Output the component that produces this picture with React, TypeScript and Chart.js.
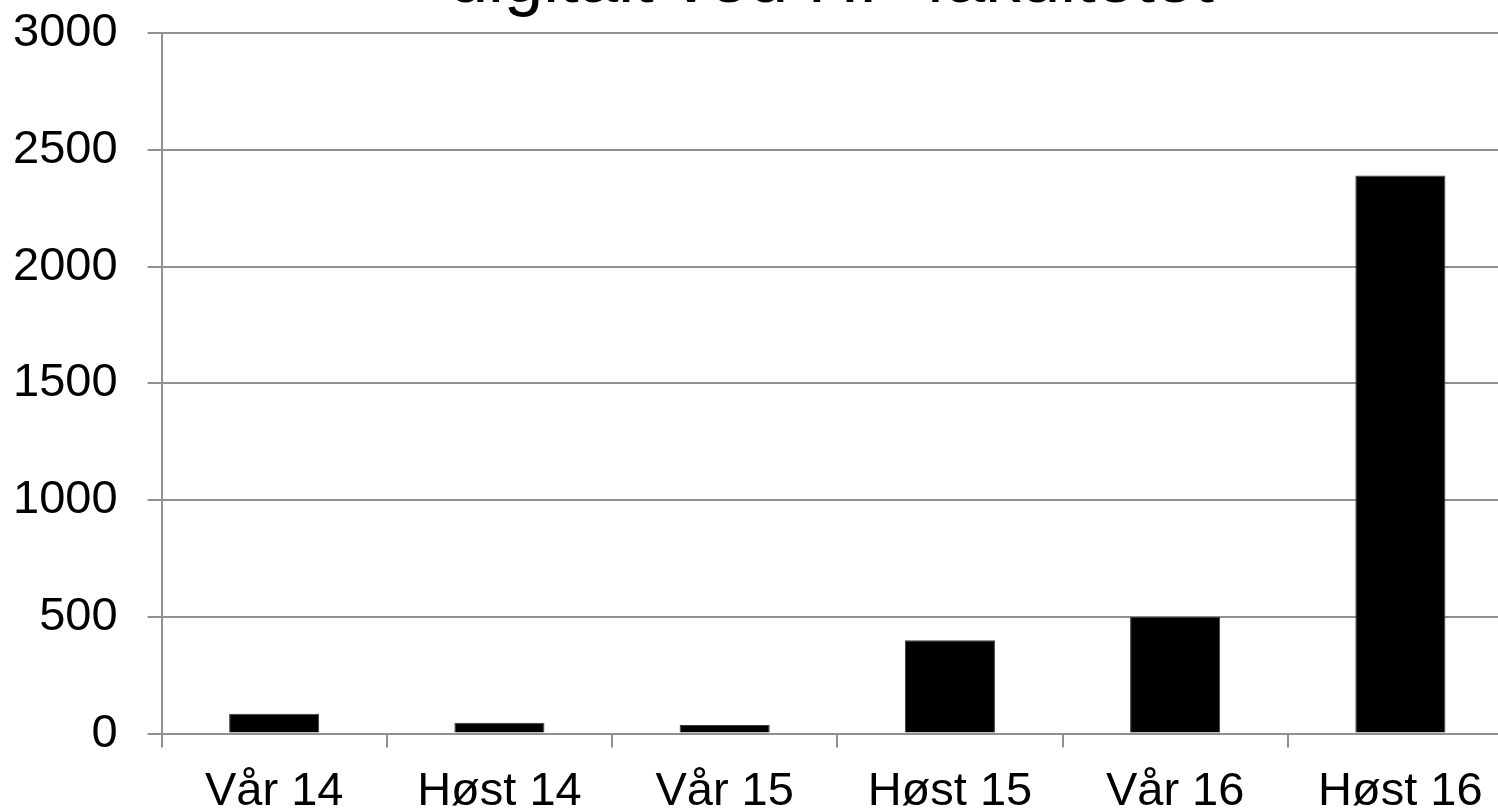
import React, { useEffect, useRef } from "react";
import { Chart, registerables } from "chart.js";

Chart.register(...registerables);

const TITLE = "digitalt ved HF-fakultetet";
const CATEGORIES = ["Vår 14", "Høst 14", "Vår 15", "Høst 15", "Vår 16", "Høst 16"];
const VALUES = [85, 46, 37, 400, 500, 2390];
const Y_MIN = 0;
const Y_MAX = 3000;
const Y_STEP = 500;

const FONT = "'Liberation Sans', Arial, Helvetica, sans-serif";
const GRID = "#909090";

const titlePlugin = {
  id: "croppedTitle",
  afterDraw(chart: any) {
    const { ctx, chartArea } = chart;
    ctx.save();
    ctx.font = `normal 71px ${FONT}`;
    ctx.fillStyle = "#000000";
    ctx.textAlign = "center";
    ctx.textBaseline = "alphabetic";
    ctx.fillText(TITLE, (chartArea.left + chartArea.right) / 2 - 6, chartArea.top - 31.5);
    ctx.restore();
  },
};

export default function App() {
  const ref = useRef<HTMLCanvasElement>(null);

  useEffect(() => {
    if (!ref.current) return;
    const chart = new Chart(ref.current, {
      type: "bar",
      data: {
        labels: CATEGORIES,
        datasets: [
          {
            data: VALUES,
            backgroundColor: "#000000",
            borderColor: "#3a3a3a",
            borderWidth: 1,
            barPercentage: 0.4,
            categoryPercentage: 1,
          },
        ],
      },
      plugins: [titlePlugin],
      options: {
        animation: false,
        responsive: false,
        maintainAspectRatio: false,
        devicePixelRatio: 1,
        layout: { padding: { left: 14, right: 22, top: 8, bottom: 0 } },
        plugins: {
          legend: { display: false },
          tooltip: { enabled: false },
          title: { display: false },
        },
        scales: {
          x: {
            grid: {
              display: true,
              drawOnChartArea: false,
              offset: true,
              tickLength: 14,
              color: GRID,
              lineWidth: 2,
            },
            border: { color: GRID, width: 2 },
            ticks: {
              color: "#000000",
              font: { family: FONT, size: 47 },
              padding: 16,
              maxRotation: 0,
              autoSkip: false,
            },
          },
          y: {
            min: Y_MIN,
            max: Y_MAX,
            grid: { color: GRID, lineWidth: 2, tickLength: 14 },
            border: { color: GRID, width: 2 },
            ticks: {
              stepSize: Y_STEP,
              color: "#000000",
              font: { family: FONT, size: 47 },
              padding: 30,
              callback: (v: any) => String(v),
            },
          },
        },
      },
    });
    return () => chart.destroy();
  }, []);

  return (
    <div
      style={{
        position: "fixed",
        left: 0,
        top: 0,
        width: "100vw",
        height: "100vh",
        overflow: "hidden",
        background: "#ffffff",
      }}
    >
      <canvas
        ref={ref}
        width={1566}
        height={861}
        style={{ position: "absolute", left: -31, top: -25, width: 1566, height: 861 }}
      />
    </div>
  );
}
